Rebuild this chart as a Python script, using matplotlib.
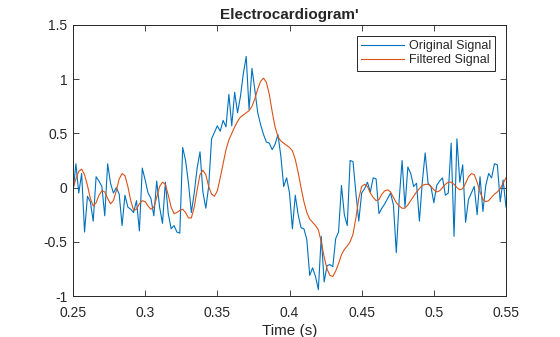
import numpy as np
import matplotlib
matplotlib.use("Agg")
import matplotlib.pyplot as plt

t_start, t_step = 0.25, 0.002

original = [-0.05, 0.22, -0.05, 0.13, -0.41, -0.08, -0.13, -0.31, 0.10, 0.06,
            0.01, -0.26, 0.22, 0.04, -0.05, 0.00, -0.06, -0.35, -0.07, -0.18,
            -0.20, -0.23, -0.12, -0.40, 0.18, 0.07, -0.05, -0.10, -0.26, 0.06,
            -0.18, -0.33, 0.05, -0.24, -0.38, -0.35, -0.41, -0.42, 0.37, 0.25,
            0.04, -0.23, -0.05, 0.18, 0.33, -0.04, -0.19, 0.01, 0.45, 0.51,
            0.57, 0.52, 0.62, 0.56, 0.86, 0.57, 0.88, 0.69, 0.84, 1.05,
            1.21, 0.72, 1.10, 0.90, 0.69, 0.58, 0.49, 0.42, 0.41, 0.35,
            0.40, 0.49, 0.29, 0.01, 0.09, -0.05, -0.38, -0.07, -0.25, -0.37,
            -0.38, -0.48, -0.81, -0.74, -0.82, -0.94, -0.45, -0.87, -0.72, -0.71,
            -0.73, -0.47, -0.41, 0.02, -0.25, -0.35, 0.25, 0.24, -0.05, -0.31,
            -0.05, -0.01, 0.05, -0.04, 0.09, 0.08, -0.24, -0.19, -0.15, -0.10,
            -0.05, -0.16, -0.60, -0.11, 0.25, -0.18, 0.19, 0.13, 0.01, 0.04,
            -0.31, 0.05, 0.32, 0.04, 0.01, -0.14, 0.02, 0.06, 0.09, -0.07,
            -0.05, 0.41, -0.45, 0.45, 0.05, 0.21, -0.32, -0.11, -0.05, 0.01,
            -0.25, 0.10, -0.22, 0.02, 0.13, 0.09, 0.22, 0.21, -0.13, 0.07,
            -0.18]

filtered = [-0.01, 0.08, 0.15, 0.17, 0.12, 0.02, -0.10, -0.17, -0.14, -0.07,
            -0.03, -0.04, -0.10, -0.15, -0.12, -0.03, 0.08, 0.13, 0.11, 0.01,
            -0.12, -0.21, -0.20, -0.15, -0.12, -0.13, -0.17, -0.20, -0.18, -0.09,
            0.01, 0.05, 0.03, -0.07, -0.18, -0.24, -0.23, -0.21, -0.20, -0.23,
            -0.28, -0.28, -0.18, -0.02, 0.12, 0.16, 0.12, 0.01, -0.06, -0.08,
            -0.03, 0.09, 0.22, 0.35, 0.44, 0.50, 0.56, 0.61, 0.65, 0.67,
            0.69, 0.71, 0.75, 0.82, 0.91, 0.98, 1.01, 0.97, 0.86, 0.70,
            0.56, 0.47, 0.43, 0.41, 0.39, 0.37, 0.34, 0.26, 0.14, 0.00,
            -0.13, -0.23, -0.29, -0.32, -0.35, -0.39, -0.50, -0.64, -0.75, -0.81,
            -0.82, -0.77, -0.70, -0.62, -0.57, -0.54, -0.50, -0.43, -0.28, -0.10,
            0.01, 0.03, 0.01, -0.05, -0.09, -0.12, -0.11, -0.06, -0.03, -0.02,
            -0.04, -0.09, -0.14, -0.17, -0.19, -0.19, -0.16, -0.12, -0.08, -0.04,
            -0.01, 0.02, 0.03, 0.03, 0.01, -0.02, -0.04, -0.03, 0.00, 0.03,
            0.05, 0.05, 0.03, 0.00, -0.02, -0.01, 0.04, 0.10, 0.13, 0.12,
            0.05, -0.04, -0.11, -0.13, -0.12, -0.09, -0.06, -0.04, -0.01, 0.04,
            0.09]

x_ticks = [0.25, 0.3, 0.35, 0.4, 0.45, 0.5, 0.55]
x_tick_labels = ["0.25", "0.3", "0.35", "0.4", "0.45", "0.5", "0.55"]
y_ticks = [-1, -0.5, 0, 0.5, 1, 1.5]
y_tick_labels = ["-1", "-0.5", "0", "0.5", "1", "1.5"]

t = t_start + t_step * np.arange(len(original))

plt.rcParams['font.family'] = ['Liberation Sans', 'DejaVu Sans']
dark = '#262626'

fig = plt.figure(figsize=(5.6, 3.37), dpi=100)
ax = fig.add_axes([73/560, 41/337, 433/560, 271/337])
ax.plot(t, original, color='#0072BD', lw=0.8, label='Original Signal')
ax.plot(t, filtered, color='#D95319', lw=0.8, label='Filtered Signal')

ax.set_xlim(0.25, 0.55)
ax.set_ylim(-1, 1.5)
ax.set_xticks(x_ticks)
ax.set_xticklabels(x_tick_labels)
ax.set_yticks(y_ticks)
ax.set_yticklabels(y_tick_labels)
ax.tick_params(direction='in', top=True, right=True, length=4, width=0.6,
               labelsize=10, colors=dark)
ax.tick_params(axis='x', pad=7)
ax.tick_params(axis='y', pad=4)
for s in ax.spines.values():
    s.set_color(dark)
    s.set_linewidth(0.7)

ax.set_title("Electrocardiogram'", fontsize=11, fontweight='bold', color=dark, pad=4)
ax.set_xlabel("Time (s)", fontsize=11, color=dark, labelpad=3)

leg = ax.legend(loc='upper right', fontsize=9, frameon=True, fancybox=False,
                edgecolor=dark, framealpha=1, borderpad=0.35, labelspacing=0.2,
                handlelength=3.4, handletextpad=0.4, borderaxespad=0.85)
leg.get_frame().set_linewidth(0.7)
for txt in leg.get_texts():
    txt.set_color(dark)

fig.savefig("out.png", dpi=100)
